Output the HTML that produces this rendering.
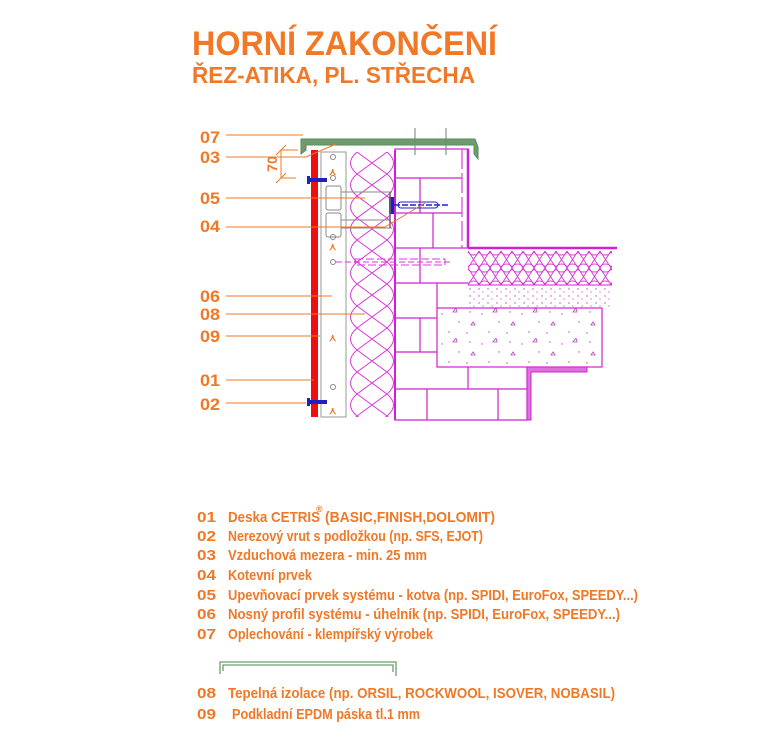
<!DOCTYPE html>
<html><head><meta charset="utf-8"><style>
html,body{margin:0;padding:0;background:#fff;width:783px;height:750px;overflow:hidden}
svg{display:block}
text{font-family:"Liberation Sans",sans-serif;fill:#f07826;font-weight:bold}
</style></head><body>
<svg width="783" height="750" viewBox="0 0 783 750" xmlns="http://www.w3.org/2000/svg">
<defs>
<pattern id="ins" patternUnits="userSpaceOnUse" x="349" y="152" width="46" height="22">
<path d="M8,0 L38,22 M38,0 L8,22 M8,0 Q-5,11 8,22 M38,0 Q51,11 38,22" fill="none" stroke="#d838d8" stroke-width="1"/>
</pattern>
<pattern id="rins" patternUnits="userSpaceOnUse" x="468" y="251" width="11" height="17">
<path d="M0,0 L11,17 M11,0 L0,17 M0,0 A5.5,4 0 0 0 11,0 M0,17 A5.5,4 0 0 1 11,17" fill="none" stroke="#d838d8" stroke-width="0.9"/>
</pattern>
<pattern id="dots" patternUnits="userSpaceOnUse" width="9" height="7">
<circle cx="2" cy="2" r="0.7" fill="#c040c0"/><circle cx="6" cy="5" r="0.6" fill="#c040c0"/>
</pattern>
<pattern id="conc" patternUnits="userSpaceOnUse" x="437" y="308" width="40" height="30">
<circle cx="5" cy="6" r="0.7" fill="#c040c0"/><circle cx="22" cy="14" r="0.7" fill="#c040c0"/><circle cx="33" cy="4" r="0.7" fill="#c040c0"/><circle cx="12" cy="24" r="0.7" fill="#c040c0"/><circle cx="30" cy="25" r="0.7" fill="#c040c0"/>
<path d="M16,4 l3,-4 l1,4z M34,17 l2,-3 l2,3z" fill="none" stroke="#c040c0" stroke-width="0.8"/>
</pattern>
</defs>

<text x="192" y="55" font-size="34" textLength="305" lengthAdjust="spacingAndGlyphs">HORNÍ ZAKONČENÍ</text>
<text x="192" y="83" font-size="23" textLength="283" lengthAdjust="spacingAndGlyphs">ŘEZ-ATIKA, PL. STŘECHA</text>

<g stroke="#d020d0" fill="none" stroke-width="1.2">
<rect x="395" y="149" width="73" height="99" fill="#fff"/>
<path d="M468,149 V248" stroke-width="2.5"/>
<path d="M462,149 V248" stroke-width="1" stroke-dasharray="20,4"/>
<path d="M395,178 H462 M395,213 H462 M420,178 V213 M433,213 V248"/>
<path d="M395,248 V420 H527 V367"/>
<path d="M395,283 H468 M395,318 H437 M395,352 H437 M395,389 H527 M420,248 V283 M420,318 V352 M468,367 V389 M427,389 V420 M498,389 V420 M437,283 V308"/>
<path d="M468,248 H617" stroke-width="2.5"/>
</g>
<rect x="468" y="251" width="144" height="34" fill="url(#rins)"/>
<line x1="468" y1="285" x2="612" y2="285" stroke="#d020d0" stroke-width="1"/>
<rect x="468" y="286" width="142" height="22" fill="url(#dots)"/>
<line x1="468" y1="308" x2="602" y2="308" stroke="#d020d0" stroke-width="1"/>
<rect x="437" y="308" width="165" height="59" fill="url(#conc)" stroke="#d020d0" stroke-width="1.2"/>
<path d="M527,367 H587 V372 H531 V420 H527Z" fill="#e070e0" stroke="#d020d0" stroke-width="1"/>

<rect x="349" y="152" width="46" height="265" fill="url(#ins)"/>
<line x1="395" y1="150" x2="395" y2="420" stroke="#d020d0" stroke-width="2"/>

<rect x="321" y="152" width="25" height="265" fill="#fff" stroke="#999" stroke-width="1"/>
<rect x="326" y="186" width="15" height="24" rx="2" fill="#fff" stroke="#888"/>
<rect x="326" y="213" width="15" height="24" rx="2" fill="#fff" stroke="#888"/>
<path d="M341,192 H392 M341,220 H390 M341,228 H392" stroke="#888" fill="none"/>
<g fill="none" stroke="#888"><circle cx="333" cy="157" r="2.5"/><circle cx="333" cy="178" r="2.5"/><circle cx="333" cy="237" r="2.5"/><circle cx="333" cy="262" r="2.5"/><circle cx="333" cy="387" r="2.5"/></g>
<g fill="#f07826"><text x="329" y="175" font-size="10">⋏</text><text x="329" y="250" font-size="10">⋏</text><text x="329" y="341" font-size="10">⋏</text><text x="329" y="414" font-size="10">⋏</text></g>
<path d="M336,262 H450" stroke="#d838d8" stroke-dasharray="6,3" fill="none"/>
<rect x="355" y="259" width="90" height="6" fill="none" stroke="#d838d8" stroke-dasharray="8,3"/>
<rect x="389" y="197" width="5" height="17" fill="#2020c0"/>
<path d="M394,205 H450" stroke="#2020d0" stroke-width="1.5" stroke-dasharray="6,2"/>
<rect x="398" y="202" width="40" height="6" fill="none" stroke="#2020d0" rx="3"/>
<line x1="390" y1="192" x2="390" y2="228" stroke="#666" stroke-width="1.5"/>

<rect x="311" y="150" width="7" height="267" fill="#ee1010"/>
<rect x="307" y="178" width="20" height="4" fill="#2020c0"/><rect x="307" y="176" width="3" height="8" fill="#2020c0"/>
<rect x="307" y="400" width="20" height="4" fill="#2020c0"/><rect x="307" y="398" width="3" height="8" fill="#2020c0"/>

<path d="M301,139 H475 L478,147 V159 L474,154 V145 H306 L306,150 L301,154Z" fill="#6e9c6e" stroke="#5a8a5a" stroke-width="1"/>
<path d="M415,128 V155 M446,128 V155" stroke="#6a8a6a" fill="none"/>

<g stroke="#f07826" fill="none" stroke-width="1">
<path d="M281,150 V178 M276,155 L286,145 M276,183 L286,173 M281,150 H298 M281,178 H296"/>
</g>
<text x="0" y="0" font-size="14" transform="translate(277,172) rotate(-90)" textLength="16" lengthAdjust="spacingAndGlyphs">70</text>

<g font-size="17">
<text x="200" y="143" textLength="20" lengthAdjust="spacingAndGlyphs">07</text>
<text x="200" y="163" textLength="20" lengthAdjust="spacingAndGlyphs">03</text>
<text x="200" y="204" textLength="20" lengthAdjust="spacingAndGlyphs">05</text>
<text x="200" y="232" textLength="20" lengthAdjust="spacingAndGlyphs">04</text>
<text x="200" y="302" textLength="20" lengthAdjust="spacingAndGlyphs">06</text>
<text x="200" y="320" textLength="20" lengthAdjust="spacingAndGlyphs">08</text>
<text x="200" y="342" textLength="20" lengthAdjust="spacingAndGlyphs">09</text>
<text x="200" y="386" textLength="20" lengthAdjust="spacingAndGlyphs">01</text>
<text x="200" y="410" textLength="20" lengthAdjust="spacingAndGlyphs">02</text>
</g>
<g stroke="#f07826" fill="none" stroke-width="1">
<path d="M226,135 H303"/>
<path d="M226,157 H306 L336,144"/>
<path d="M226,198 H365"/>
<path d="M226,227 H385 L425,203"/>
<path d="M226,296 H332"/>
<path d="M226,314 H365"/>
<path d="M226,336 H320"/>
<path d="M226,380 H314"/>
<path d="M226,403 H306"/>
</g>

<g font-size="15">
<text x="197" y="522" textLength="19" lengthAdjust="spacingAndGlyphs">01</text>
<text x="197" y="541" textLength="19" lengthAdjust="spacingAndGlyphs">02</text>
<text x="197" y="560" textLength="19" lengthAdjust="spacingAndGlyphs">03</text>
<text x="197" y="580" textLength="19" lengthAdjust="spacingAndGlyphs">04</text>
<text x="197" y="600" textLength="19" lengthAdjust="spacingAndGlyphs">05</text>
<text x="197" y="619" textLength="19" lengthAdjust="spacingAndGlyphs">06</text>
<text x="197" y="639" textLength="19" lengthAdjust="spacingAndGlyphs">07</text>
<text x="197" y="698" textLength="19" lengthAdjust="spacingAndGlyphs">08</text>
<text x="197" y="719" textLength="19" lengthAdjust="spacingAndGlyphs">09</text>
<text x="228" y="522" textLength="92" lengthAdjust="spacingAndGlyphs">Deska CETRIS</text>
<text x="325" y="522" textLength="170" lengthAdjust="spacingAndGlyphs">(BASIC,FINISH,DOLOMIT)</text>
<text x="316" y="512" font-size="9">®</text>
<text x="228" y="541" textLength="255" lengthAdjust="spacingAndGlyphs">Nerezový vrut s podložkou (np. SFS, EJOT)</text>
<text x="228" y="560" textLength="199" lengthAdjust="spacingAndGlyphs">Vzduchová mezera - min. 25 mm</text>
<text x="228" y="580" textLength="84" lengthAdjust="spacingAndGlyphs">Kotevní prvek</text>
<text x="228" y="600" textLength="410" lengthAdjust="spacingAndGlyphs">Upevňovací prvek systému - kotva (np. SPIDI, EuroFox, SPEEDY...)</text>
<text x="228" y="619" textLength="392" lengthAdjust="spacingAndGlyphs">Nosný profil systému - úhelník (np. SPIDI, EuroFox, SPEEDY...)</text>
<text x="228" y="639" textLength="205" lengthAdjust="spacingAndGlyphs">Oplechování - klempířský výrobek</text>
<text x="228" y="698" textLength="387" lengthAdjust="spacingAndGlyphs">Tepelná izolace (np. ORSIL, ROCKWOOL, ISOVER, NOBASIL)</text>
<text x="232" y="719" textLength="188" lengthAdjust="spacingAndGlyphs">Podkladní EPDM páska tl.1 mm</text>
</g>
<path d="M220,674 V662 H396 V676 M223,671 V665 H393 V672" fill="none" stroke="#6e9c6e" stroke-width="1.3"/>
</svg>
</body></html>
